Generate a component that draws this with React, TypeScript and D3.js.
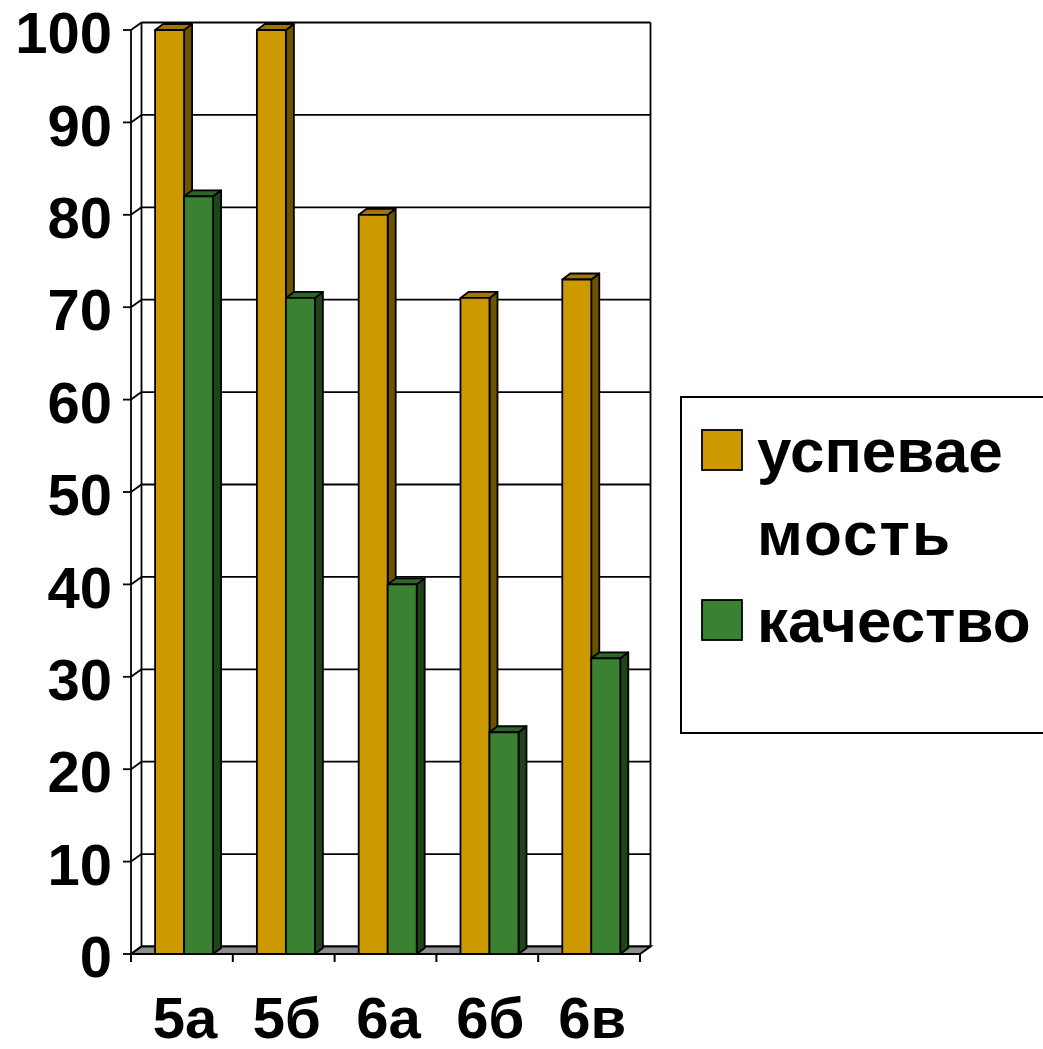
import * as d3 from 'd3';

const categories = ['5а', '5б', '6а', '6б', '6в'];
const seriesNames = ['успеваемость', 'качество'];
const uspevaemost = [100, 100, 80, 71, 73];
const kachestvo = [82, 71, 40, 24, 32];
const yTicks = [0, 10, 20, 30, 40, 50, 60, 70, 80, 90, 100];
const legendLines = [['успевае', 'мость'], ['качество']];

const W = 1043;
const H = 1049;
const DX = 10.5; // wall depth
const DY = 7.5;
const BDX = 8; // bar depth
const BDY = 6;
const FONT = '"Liberation Sans", Arial, sans-serif';

const palette = [
  { front: '#CC9900', top: '#9F7700', side: '#6E5200' },
  { front: '#3A8131', top: '#2C6525', side: '#1F4419' },
];

export default function App() {
  const x = d3.scaleBand<string>().domain(categories).range([131, 640]).padding(0);
  const inner = d3
    .scaleBand<string>()
    .domain(seriesNames)
    .range([0, x.bandwidth()])
    .paddingInner(0)
    .paddingOuter(0.755)
    .align(0.55);
  const y = d3.scaleLinear().domain([0, 100]).range([954, 30]);

  const values = [uspevaemost, kachestvo];
  const x0 = x.range()[0];
  const x1 = x.range()[1];
  const yTop = y(100);
  const yBase = y(0);

  return (
    <svg
      width={W}
      height={H}
      style={{ position: 'absolute', left: 0, top: 0, background: '#fff' }}
    >
      {/* back wall and side wall */}
      <g fill="none" stroke="#000" strokeWidth={1.8}>
        {yTicks.map((t) => (
          <g key={t}>
            <line x1={x0 - 8} x2={x0} y1={y(t)} y2={y(t)} />
            <line x1={x0} x2={x0 + DX} y1={y(t)} y2={y(t) - DY} />
            <line x1={x0 + DX} x2={x1 + DX} y1={y(t) - DY} y2={y(t) - DY} />
          </g>
        ))}
        <line x1={x0} x2={x0} y1={yTop} y2={yBase} />
        <line x1={x0 + DX} x2={x0 + DX} y1={yTop - DY} y2={yBase - DY} />
        <line x1={x1 + DX} x2={x1 + DX} y1={yTop - DY} y2={yBase - DY} />
      </g>

      {/* floor */}
      <path
        d={`M${x0},${yBase}L${x1},${yBase}L${x1 + DX},${yBase - DY}L${x0 + DX},${yBase - DY}Z`}
        fill="#8c8c8c"
        stroke="#000"
        strokeWidth={2}
      />

      {/* bars */}
      {categories.map((c, i) => (
        <g key={c}>
          {seriesNames.map((s, k) => {
            const bx = (x(c) ?? 0) + (inner(s) ?? 0);
            const bw = inner.bandwidth();
            const top = y(values[k][i]);
            const col = palette[k];
            return (
              <g key={s} stroke="#000" strokeWidth={1.8} strokeLinejoin="round">
                <path
                  d={`M${bx + bw},${yBase}L${bx + bw + BDX},${yBase - BDY}L${bx + bw + BDX},${top - BDY}L${bx + bw},${top}Z`}
                  fill={col.side}
                />
                <path
                  d={`M${bx},${top}L${bx + BDX},${top - BDY}L${bx + bw + BDX},${top - BDY}L${bx + bw},${top}Z`}
                  fill={col.top}
                />
                <rect x={bx} y={top} width={bw} height={yBase - top} fill={col.front} />
              </g>
            );
          })}
        </g>
      ))}

      {/* x axis */}
      <g stroke="#000" strokeWidth={2}>
        <line x1={x0} x2={x1} y1={yBase} y2={yBase} />
        {[...categories.map((c) => x(c) ?? 0), x1].map((v, i) => (
          <line key={i} x1={v} x2={v} y1={yBase} y2={yBase + 8} />
        ))}
      </g>

      {/* tick labels */}
      <g fontFamily={FONT} fontWeight="bold" fill="#000">
        {yTicks.map((t) => (
          <text
            key={t}
            x={112}
            y={y(t)}
            dy="0.4em"
            textAnchor="end"
            fontSize={58}
          >
            {t}
          </text>
        ))}
        {categories.map((c) => (
          <text
            key={c}
            x={(x(c) ?? 0) + x.bandwidth() / 2 + 3}
            y={1038}
            textAnchor="middle"
            fontSize={58}
          >
            {c}
          </text>
        ))}
      </g>

      {/* legend */}
      <g>
        <rect x={681} y={397} width={420} height={336} fill="#fff" stroke="#000" strokeWidth={2} />
        {seriesNames.map((s, k) => {
          const ly = k === 0 ? 430 : 600;
          return (
            <g key={s}>
              <rect x={702} y={ly} width={40} height={40} fill={palette[k].front} stroke="#000" strokeWidth={1.8} />
              {legendLines[k].map((line, j) => (
                <text
                  key={line}
                  x={757}
                  y={ly + 42 + j * 83}
                  fontFamily={FONT}
                  fontWeight="bold"
                  fontSize={62}
                  letterSpacing={j === 1 ? 2 : 0}
                  fill="#000"
                >
                  {line}
                </text>
              ))}
            </g>
          );
        })}
      </g>
    </svg>
  );
}
